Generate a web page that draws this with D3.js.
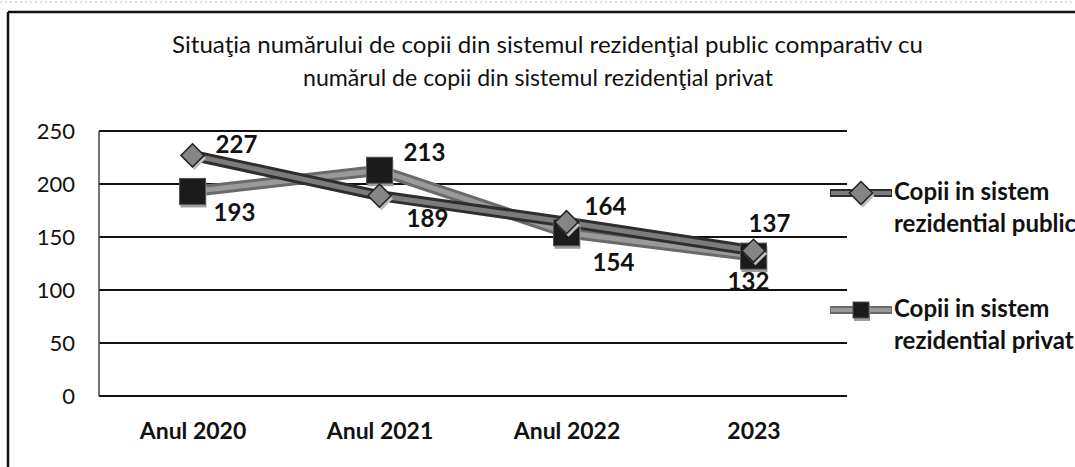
<!DOCTYPE html>
<html>
<head>
<meta charset="utf-8">
<script src="https://cdn.jsdelivr.net/npm/d3@7"></script>
<style>
  html, body { margin: 0; padding: 0; background: #fff; }
  svg text { font-family: Lato, "Open Sans", sans-serif; fill: #111; }
</style>
</head>
<body>
<div id="chart"></div>
<script>
const years = ['Anul 2020', 'Anul 2021', 'Anul 2022', '2023'];
const publicValues = [227, 189, 164, 137];
const privateValues = [193, 213, 154, 132];
const seriesNames = [
  ['Copii in sistem', 'rezidential public'],
  ['Copii in sistem', 'rezidential privat']
];
const titleLines = [
  'Situaţia numărului de copii din sistemul rezidenţial public comparativ cu',
  'numărul de copii din sistemul rezidenţial privat'
];
const yTicks = [0, 50, 100, 150, 200, 250];

// label nudges (px) relative to each marker, as placed in the original
const publicLabelShift = [[44, -2], [48, 31], [39, -7], [16, -19]];
const privateLabelShift = [[42, 30], [45, -9], [47, 38], [-5, 34]];

const width = 1075, height = 467;
const plot = { left: 99, right: 847, top: 131, bottom: 396 };

const svg = d3.select('#chart').append('svg')
  .attr('width', width)
  .attr('height', height);

// outer frame (scan edges)
svg.append('line').attr('x1', 0).attr('x2', width).attr('y1', 2).attr('y2', 2)
  .style('stroke', '#bbb').style('stroke-width', 1).style('stroke-dasharray', '2,3');
svg.append('line').attr('x1', 8).attr('x2', width).attr('y1', 12).attr('y2', 12)
  .style('stroke', '#111').style('stroke-width', 2.5);
svg.append('line').attr('x1', 8).attr('x2', 8).attr('y1', 12).attr('y2', height)
  .style('stroke', '#111').style('stroke-width', 2.5);

// title
const title = svg.append('g');
title.append('text').attr('x', 172).attr('y', 53).attr('textLength', 751)
  .attr('lengthAdjust', 'spacingAndGlyphs').style('font-size', '23px').text(titleLines[0]);
title.append('text').attr('x', 303).attr('y', 86).attr('textLength', 470)
  .attr('lengthAdjust', 'spacingAndGlyphs').style('font-size', '23px').text(titleLines[1]);

const x = d3.scalePoint().domain(years).range([plot.left, plot.right]).padding(0.5);
const y = d3.scaleLinear().domain([0, 250]).range([plot.bottom, plot.top]);

// gridlines
svg.append('g')
  .selectAll('line')
  .data(yTicks)
  .enter()
  .append('line')
  .attr('x1', plot.left).attr('x2', plot.right)
  .attr('y1', d => y(d)).attr('y2', d => y(d))
  .style('stroke', '#111').style('stroke-width', 2.2);

svg.append('line')
  .attr('x1', plot.left).attr('x2', plot.left)
  .attr('y1', y(250)).attr('y2', y(0))
  .style('stroke', '#444').style('stroke-width', 1.5);

// y axis labels
svg.append('g')
  .attr('transform', `translate(${plot.left - 24},0)`)
  .call(d3.axisLeft(y).tickValues(yTicks).tickSize(0).tickPadding(0))
  .call(g => g.select('.domain').remove())
  .selectAll('text')
  .style('font-size', '22px')
  .style('font-family', 'Lato, sans-serif')
  .attr('fill', '#111')
  .attr('dy', '0.36em');

// x axis labels
svg.append('g')
  .attr('transform', `translate(0,${y(0)})`)
  .call(d3.axisBottom(x).tickSize(0).tickPadding(26))
  .call(g => g.select('.domain').remove())
  .selectAll('text')
  .style('font-size', '23px')
  .style('font-weight', 'bold')
  .style('font-family', 'Lato, sans-serif')
  .attr('fill', '#111')
  .attr('dy', '0.72em');

const line = d3.line().x((d, i) => x(years[i])).y(d => y(d));

function drawSeries(values, outer, inner) {
  svg.append('path').datum(values).attr('d', line)
    .style('fill', 'none').style('stroke', outer).style('stroke-width', 11)
    .style('stroke-linejoin', 'round');
  svg.append('path').datum(values).attr('d', line)
    .style('fill', 'none').style('stroke', inner).style('stroke-width', 5)
    .style('stroke-linejoin', 'round');
}

drawSeries(privateValues, '#6a6a6a', '#9a9a9a');
drawSeries(publicValues, '#2e2e2e', '#7c7c7c');

const diamond = d3.symbol().type(d3.symbolDiamond2).size(340);

function diamondMark(g, cx, cy) {
  g.append('path').attr('d', diamond())
    .attr('transform', `translate(${cx + 2},${cy + 3})`).style('fill', '#bdbdbd');
  g.append('path').attr('d', diamond())
    .attr('transform', `translate(${cx},${cy})`)
    .style('fill', '#858585').style('stroke', '#222').style('stroke-width', 1.5);
}

function squareMark(g, cx, cy, s) {
  g.append('rect').attr('x', cx - s / 2 + 1).attr('y', cy - s / 2 + 3)
    .attr('width', s).attr('height', s).style('fill', '#9d9d9d');
  g.append('rect').attr('x', cx - s / 2).attr('y', cy - s / 2)
    .attr('width', s).attr('height', s).style('fill', '#1b1b1b')
    .style('stroke', '#555').style('stroke-width', 1);
}

const marks = svg.append('g');
privateValues.forEach((v, i) => squareMark(marks, x(years[i]), y(v), 26));
publicValues.forEach((v, i) => diamondMark(marks, x(years[i]), y(v)));

// data labels
function labels(values, shift) {
  svg.append('g').selectAll('text')
    .data(values)
    .enter()
    .append('text')
    .attr('x', (d, i) => x(years[i]) + shift[i][0])
    .attr('y', (d, i) => y(d) + shift[i][1])
    .attr('text-anchor', 'middle')
    .style('font-size', '24px')
    .style('font-weight', 'bold')
    .text(d => d);
}
labels(publicValues, publicLabelShift);
labels(privateValues, privateLabelShift);

// legend
const legendY = [193, 310];
const legend = svg.append('g');
seriesNames.forEach((name, i) => {
  const ly = legendY[i];
  legend.append('line').attr('x1', 830).attr('x2', 892).attr('y1', ly).attr('y2', ly)
    .style('stroke', i === 0 ? '#2e2e2e' : '#6a6a6a').style('stroke-width', 8);
  legend.append('line').attr('x1', 831).attr('x2', 891).attr('y1', ly).attr('y2', ly)
    .style('stroke', i === 0 ? '#7c7c7c' : '#9a9a9a').style('stroke-width', 4);
  if (i === 0) diamondMark(legend, 861, ly);
  else squareMark(legend, 861, ly, 16);
  legend.append('text').attr('x', 894).attr('y', ly + 7)
    .style('font-size', '24px').style('font-weight', 'bold').text(name[0]);
  legend.append('text').attr('x', 894).attr('y', ly + 39)
    .style('font-size', '24px').style('font-weight', 'bold').text(name[1]);
});
</script>
</body>
</html>
